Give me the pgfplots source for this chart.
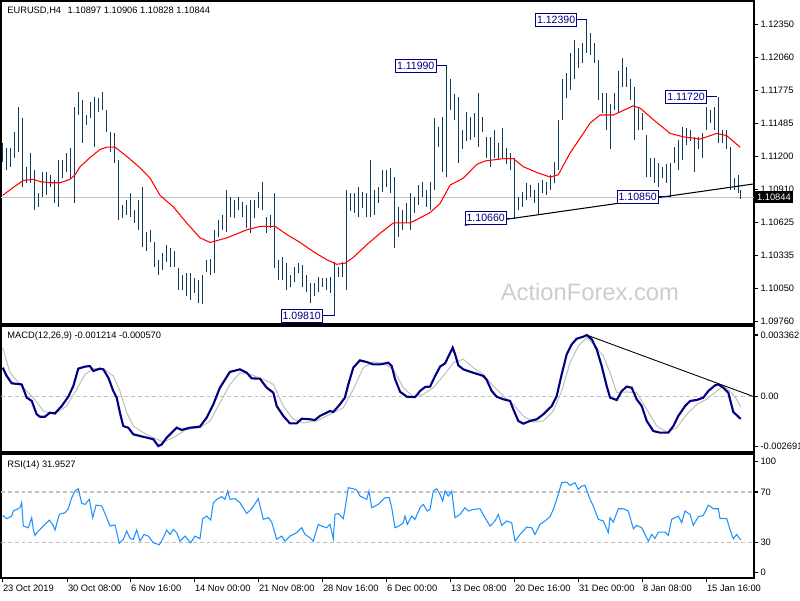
\documentclass[border=0pt]{standalone}
\usepackage{fontspec}
\setmainfont{Liberation Sans}
\usepackage{pgfplots}
\pgfplotsset{compat=1.18}
\usepackage{pgfplotstable}

\definecolor{barcol}{RGB}{16,60,90}
\definecolor{mtnavy}{RGB}{0,0,128}
\definecolor{silv}{RGB}{192,192,192}
\definecolor{rsiblue}{RGB}{30,144,255}
\definecolor{wmark}{RGB}{204,204,204}
\newcommand\tf{\fontsize{5.3}{6}\selectfont}

% price bars: bar index, low, high (every second 4h bar)
\pgfplotstableread{
i lo hi
0 1.1115 1.1132
2 1.1108 1.1127
4 1.1111 1.1127
6 1.1119 1.1141
8 1.1124 1.1163
10 1.1093 1.1153
12 1.1097 1.1111
14 1.1097 1.1123
16 1.1073 1.1108
18 1.1076 1.1088
20 1.1085 1.1106
22 1.1086 1.1106
24 1.1093 1.1104
26 1.1079 1.1099
28 1.1076 1.1117
30 1.1101 1.1117
32 1.1106 1.1123
34 1.1101 1.1127
36 1.1079 1.1163
38 1.1156 1.1176
40 1.1132 1.1169
42 1.1147 1.1156
44 1.1153 1.1167
46 1.1128 1.1172
48 1.1159 1.1171
50 1.1160 1.1176
52 1.1141 1.1160
54 1.1124 1.1141
56 1.1114 1.1140
58 1.1065 1.1117
60 1.1066 1.1078
62 1.1069 1.1082
64 1.1067 1.1088
66 1.1062 1.1073
68 1.1056 1.1082
70 1.1041 1.1093
72 1.1038 1.1054
74 1.1045 1.1056
76 1.1024 1.1045
78 1.1017 1.1030
80 1.1021 1.1036
82 1.1028 1.1043
84 1.1024 1.1040
86 1.1024 1.1038
88 1.1004 1.1023
90 1.1004 1.1017
92 1.0998 1.1018
94 1.0995 1.1018
96 1.1001 1.1014
98 1.0992 1.1012
100 1.0991 1.1017
102 1.1019 1.1030
104 1.1017 1.1031
106 1.1018 1.1056
108 1.1050 1.1065
110 1.1056 1.1069
112 1.1054 1.1091
114 1.1067 1.1085
116 1.1066 1.1082
118 1.1073 1.1085
120 1.1067 1.1080
122 1.1058 1.1078
124 1.1053 1.1082
126 1.1066 1.1082
128 1.1075 1.1089
130 1.1073 1.1098
132 1.1053 1.1067
134 1.1058 1.1069
136 1.1023 1.1088
138 1.1012 1.1030
140 1.1012 1.1032
142 1.1004 1.1027
144 1.1006 1.1017
146 1.1011 1.1024
148 1.1018 1.1027
150 1.1006 1.1025
152 1.1002 1.1017
154 1.0992 1.1010
156 1.0998 1.1010
158 1.1002 1.1015
160 1.1006 1.1014
162 1.1004 1.1014
164 1.1001 1.1015
166 1.0981 1.1028
168 1.1015 1.1024
170 1.1015 1.1028
172 1.1004 1.1091
174 1.1072 1.1088
176 1.1071 1.1088
178 1.1067 1.1093
180 1.1075 1.1089
182 1.1067 1.1088
184 1.1067 1.1117
186 1.1069 1.1091
188 1.1079 1.1093
190 1.1089 1.1108
192 1.1093 1.1108
194 1.1088 1.1110
196 1.1040 1.1102
198 1.1050 1.1076
200 1.1056 1.1073
202 1.1062 1.1079
204 1.1056 1.1088
206 1.1071 1.1085
208 1.1078 1.1095
210 1.1085 1.1098
212 1.1076 1.1091
214 1.1073 1.1098
216 1.1091 1.1153
218 1.1128 1.1146
220 1.1106 1.1154
222 1.1102 1.1199
224 1.1160 1.1187
226 1.1152 1.1174
228 1.1114 1.1172
230 1.1126 1.1143
232 1.1133 1.1159
234 1.1134 1.1154
236 1.1137 1.1158
238 1.1128 1.1175
240 1.1141 1.1154
242 1.1119 1.1137
244 1.1111 1.1137
246 1.1119 1.1143
248 1.1117 1.1132
250 1.1119 1.1145
252 1.1113 1.1127
254 1.1108 1.1123
256 1.1066 1.1119
258 1.1073 1.1085
260 1.1076 1.1089
262 1.1082 1.1097
264 1.1085 1.1095
266 1.1079 1.1091
268 1.1070 1.1097
270 1.1088 1.1099
272 1.1086 1.1098
274 1.1091 1.1104
276 1.1097 1.1115
278 1.1108 1.1152
280 1.1152 1.1187
282 1.1171 1.1193
284 1.1178 1.1210
286 1.1187 1.1221
288 1.1197 1.1214
290 1.1201 1.1219
292 1.1210 1.1239
294 1.1208 1.1227
296 1.1201 1.1219
298 1.1169 1.1204
300 1.1158 1.1175
302 1.1143 1.1175
304 1.1126 1.1166
306 1.1160 1.1175
308 1.1158 1.1194
310 1.1180 1.1206
312 1.1180 1.1198
314 1.1169 1.1187
316 1.1134 1.1180
318 1.1143 1.1163
320 1.1143 1.1158
322 1.1102 1.1139
324 1.1102 1.1119
326 1.1097 1.1119
328 1.1093 1.1114
330 1.1101 1.1111
332 1.1097 1.1113
334 1.1085 1.1114
336 1.1114 1.1128
338 1.1108 1.1134
340 1.1117 1.1146
342 1.1130 1.1145
344 1.1133 1.1143
346 1.1106 1.1137
348 1.1126 1.1137
350 1.1119 1.1140
352 1.1143 1.1163
354 1.1149 1.1160
356 1.1143 1.1163
358 1.1132 1.1172
360 1.1132 1.1143
362 1.1126 1.1143
364 1.1091 1.1128
366 1.1091 1.1101
368 1.1088 1.1104
369 1.1083 1.1091
}\bars

\pgfplotstableread{
i ma
0 1.1086
5.3 1.1093
10.3 1.1099
15.3 1.1100
18.7 1.1098
23.7 1.1097
28.7 1.1097
33.7 1.1100
36.2 1.1104
38.7 1.1111
43.7 1.1119
48.7 1.1126
52 1.1128
56.2 1.1128
62 1.1120
68.7 1.1110
73.7 1.1101
78.7 1.1086
85.3 1.1076
92 1.1062
98.7 1.1049
103.7 1.1045
112 1.1049
122 1.1056
128.7 1.1059
136.2 1.1059
142 1.1052
148.7 1.1045
155.3 1.1037
162 1.1030
167 1.1026
171.2 1.1027
175.3 1.1032
182 1.1043
188.7 1.1053
195.3 1.1062
203.7 1.1062
213.7 1.1071
218.7 1.1079
223.7 1.1095
230.3 1.1101
237 1.1113
241.2 1.1116
250.3 1.1118
255.3 1.1118
260.3 1.1111
267 1.1106
273.7 1.1102
277.8 1.1104
283.7 1.1123
290.3 1.1140
293.7 1.1149
298.7 1.1156
305.3 1.1156
310.3 1.1160
315.3 1.1164
318.7 1.1162
325.3 1.1152
333.7 1.1140
340.3 1.1137
348.7 1.1135
357 1.1140
362 1.1138
368.7 1.1128
}\matab

\pgfplotstableread{
i macd
0 0.00158
2 0.00113
4.5 0.00073
9.5 0.00067
12 -0.00005
14.5 -0.00023
17 -0.00096
18.6 -0.00109
21.1 -0.00109
23.6 -0.00087
26.1 -0.00091
29.5 -0.00051
32.8 0.00000
35.3 0.00058
37.8 0.00153
41.2 0.00164
43.6 0.00167
45.3 0.00140
48.6 0.00153
50.3 0.00149
52.8 0.00104
55.3 0.00031
57 -0.00005
58.6 -0.00087
60.3 -0.00160
62.8 -0.00169
65.3 -0.00205
68.6 -0.00214
72 -0.00223
75.3 -0.00232
77.8 -0.00269
79.5 -0.00260
82 -0.00223
87 -0.00169
89.5 -0.00181
93.6 -0.00169
98.6 -0.00163
102 -0.00114
105.3 -0.00042
108.6 0.00049
113.6 0.00135
118.6 0.00149
122 0.00131
124.5 0.00100
128.6 0.00098
132 0.00049
135.3 0.00022
137 -0.00051
140.3 -0.00105
143.6 -0.00145
147 -0.00145
149.5 -0.00120
153.6 -0.00123
156.1 -0.00127
158.6 -0.00105
163.6 -0.00078
165.3 -0.00083
168.6 -0.00042
171.1 -0.00005
172.8 0.00067
175.3 0.00158
178.6 0.00198
182 0.00189
185.3 0.00176
188.6 0.00176
192.8 0.00185
194.5 0.00167
196.2 0.00095
198.7 0.00027
202 0.00000
206.2 -0.00002
208.7 0.00031
211.2 0.00053
213.7 0.00055
216.2 0.00113
218.7 0.00164
221.2 0.00182
222.8 0.00218
225 0.00267
226.2 0.00231
227.8 0.00171
230.3 0.00149
233.7 0.00136
237.8 0.00122
240.3 0.00113
242 0.00091
244.5 0.00031
247 0.00000
250.3 -0.00014
253.7 -0.00023
255.3 -0.00069
257.8 -0.00132
260.3 -0.00147
263.7 -0.00132
267 -0.00123
270.3 -0.00096
274.5 -0.00051
277 0.00004
279.5 0.00122
282 0.00231
284.5 0.00285
287 0.00316
290.3 0.00327
292 0.00336
294.5 0.00313
297 0.00258
299.5 0.00167
302 0.00058
303.7 -0.00005
307 -0.00018
309.5 0.00031
312 0.00055
314.5 0.00049
317 -0.00014
319.5 -0.00051
322 -0.00132
325.3 -0.00187
328.7 -0.00196
332.8 -0.00196
335.3 -0.00160
337.8 -0.00105
341.2 -0.00051
343.7 -0.00023
347 -0.00018
350.3 -0.00005
352.8 0.00031
356.2 0.00062
357.8 0.00067
360.3 0.00049
362.8 0.00022
365.3 -0.00083
367.8 -0.00109
369 -0.00121
}\macdtab

\pgfplotstableread{
i sig
0 0.00267
3.65 0.00131
8.65 0.00067
15.3 -0.00005
20.3 -0.00078
26.1 -0.00096
32 -0.00051
37 0.00040
41.2 0.00122
45.3 0.00153
50.3 0.00153
55.3 0.00113
58.6 0.00031
62 -0.00087
65.3 -0.00160
70.3 -0.00196
75.3 -0.00223
80.3 -0.00247
85.3 -0.00223
92 -0.00178
98.65 -0.00169
103.65 -0.00132
108.65 -0.00033
113.65 0.00067
118.65 0.00131
123.65 0.00122
130.3 0.00095
135.3 0.00067
140.3 -0.00051
145.3 -0.00123
150.3 -0.00142
157 -0.00132
163.65 -0.00096
170.3 -0.00060
175.3 0.00040
180.3 0.00158
185.3 0.00189
190.3 0.00182
195.3 0.00149
200.3 0.00049
205.3 0.00000
210.3 0.00013
215.3 0.00049
220.3 0.00113
225.3 0.00185
230.3 0.00204
235.3 0.00158
240.3 0.00122
245.3 0.00058
250.3 0.00004
255.3 -0.00042
260.3 -0.00105
265.3 -0.00138
270.3 -0.00132
275.3 -0.00078
279.5 0.00031
283.65 0.00185
287.8 0.00276
292 0.00322
296.2 0.00276
300.3 0.00222
303.65 0.00131
307 0.00022
312 0.00026
317 0.00022
322 -0.00069
327 -0.00160
332 -0.00192
337 -0.00169
342 -0.00096
347 -0.00042
352 -0.00014
357 0.00031
360.3 0.00058
363.65 0.00031
367 -0.00014
369 -0.00057
}\sigtab

\pgfplotstableread{
i rsi
0 51.4
2 48.8
4.5 50.9
5.3 54.9
7 56.2
8.65 57.5
9.5 61.5
10.3 43.0
12.8 41.6
14.5 49.6
15.3 40.3
16.15 35.5
17.8 39.0
20.3 43.0
23.3 47.7
25 44.3
26.15 39.8
28.3 52.2
31.15 53.6
32.8 56.7
34.5 65.5
36.15 70.8
37.8 72.6
39.5 61.0
41.15 60.2
43.3 64.2
45 49.6
46.65 59.6
49.5 58.9
51.65 50.9
53.65 43.0
56.15 43.8
58.3 29.2
60.3 32.4
62 39.0
63.65 33.2
65.3 32.4
67 39.8
68.65 31.0
70.65 36.3
72.8 35.0
75.3 29.7
78.3 28.1
80.3 33.7
82 39.8
83.65 36.3
85.3 40.3
87 37.7
88.65 31.0
91.15 35.0
94 29.7
96.15 35.0
98.65 32.9
100 48.8
102 50.9
104 47.7
105.3 61.5
107 64.2
109.5 66.3
111.15 64.2
112.5 70.8
113.65 64.2
116.15 64.7
118.65 61.5
122 53.0
124.5 56.7
127.8 64.7
130.3 48.3
132.8 49.6
134.5 46.1
137 32.4
139.5 35.0
141.15 31.0
143.65 35.0
147 37.7
149.5 41.6
151.15 36.3
153.65 33.7
155.3 31.0
157.8 44.3
159.5 43.0
162 41.6
163.65 44.3
165.3 32.9
166.15 52.2
167.8 53.0
170.3 48.8
171.15 56.7
172.8 73.4
175.3 72.6
177 71.6
178.65 66.8
180.3 65.5
182 64.2
183.15 70.8
184.5 57.5
187.8 60.2
191.15 65.5
193.3 65.5
194.5 57.5
196.15 41.6
198.65 43.5
200.3 45.6
201.15 50.9
202.3 44.3
204.5 50.9
206.15 48.3
208.65 57.5
210.3 60.2
212.3 54.9
213.65 56.2
215.3 70.8
217 72.6
218.65 68.1
220 62.8
221.15 70.8
222.8 66.8
224.5 70.8
226.15 49.6
228.65 52.2
231.15 57.5
232.8 54.9
235.3 56.2
238.65 56.7
241.15 49.6
243.65 43.0
246.15 47.0
247.8 52.2
249.5 43.5
252 47.0
254.5 45.6
256.15 31.0
258.65 36.3
262 42.1
264.5 41.6
266.15 36.3
268.65 44.3
271.15 47.0
273.65 50.4
275.3 56.2
277 64.2
279.5 77.4
282 77.9
283.65 75.3
286.15 77.4
287.8 72.1
289.5 74.7
291.15 75.3
293.65 64.2
295.3 58.9
297.8 48.3
300.3 47.0
302.8 37.7
303.65 49.6
305.3 46.1
307.8 56.7
310.3 56.7
312.8 54.9
315.3 40.8
317 43.5
319.5 41.6
322.8 31.0
324.5 36.3
326.15 33.2
327.8 38.2
331.15 38.2
332.8 35.5
334.5 48.3
337.8 50.9
339.5 45.6
341.15 54.9
343.65 52.2
345.3 43.5
347.8 50.4
350.3 51.4
352.8 59.6
355.3 56.7
357.8 56.7
358.65 49.0
362 48.8
363.65 40.3
365.3 32.9
367 36.3
369 31.95
}\rsitab

\pgfplotsset{
  mt4/.style={
    scale only axis, anchor=south west, width=15.06cm,
    xmin=-0.85, xmax=375.65, clip=false,
    axis line style={line width=0.6pt},
    tick style={line width=0.6pt, black},
    major tick length=0.07cm, tick align=outside,
    ytick pos=right, yticklabel pos=right,
    yticklabel style={anchor=west, font=\tf, inner xsep=1.5pt},
    scaled y ticks=false,
    xtick=\empty,
  },
}
\tikzset{
  pl/.style={draw=mtnavy, fill=white, text=mtnavy, font=\fontsize{6}{7}\selectfont,
    line width=0.6pt, inner sep=0pt, minimum width=0.82cm, minimum height=0.26cm},
  hdr/.style={anchor=west, font=\tf, inner sep=0pt},
}

\begin{document}
\begin{tikzpicture}
\useasboundingbox (0,0) rectangle (16cm,12cm);

% price panel
\begin{axis}[mt4,
  at={(0.02cm,5.52cm)}, height=6.46cm,
  ymin=1.09740, ymax=1.12553,
  ytick={1.09760,1.10050,1.10335,1.10625,1.10910,1.11200,1.11485,1.11775,1.12060,1.12350},
  yticklabels={1.09760,1.10050,1.10335,1.10625,1.10910,1.11200,1.11485,1.11775,1.12060,1.12350},
]
\node[font=\fontsize{13.5}{15}\selectfont, text=wmark] at (axis cs:293.6,1.1002) {ActionForex.com};
\draw[silv, line width=0.6pt] (axis cs:-0.85,1.10844) -- (axis cs:375.65,1.10844);
\addplot[draw=none, mark=none, forget plot,
  error bars/.cd, y dir=plus, y explicit, error mark=none,
  error bar style={draw=barcol, line width=0.8pt, solid}]
  table[x=i, y=lo, y error plus expr=\thisrow{hi}-\thisrow{lo}] {\bars};
\addplot[red, line width=0.6pt, mark=none] table[x=i, y=ma] {\matab};
\addplot[black, line width=0.6pt, mark=none] coordinates {(231,1.1060) (375.6,1.1096)};
\draw[mtnavy, line width=0.6pt] (axis cs:222,1.1199) -- (axis cs:217,1.1199) node[pl, anchor=east] {1.11990};
\draw[mtnavy, line width=0.6pt] (axis cs:292,1.1239) -- (axis cs:287.2,1.1239) node[pl, anchor=east] {1.12390};
\draw[mtnavy, line width=0.6pt] (axis cs:357,1.1172) -- (axis cs:352.2,1.1172) node[pl, anchor=east] {1.11720};
\draw[mtnavy, line width=0.6pt] (axis cs:334,1.1085) -- (axis cs:328,1.1085) node[pl, anchor=east] {1.10850};
\draw[mtnavy, line width=0.6pt] (axis cs:256,1.1066) -- (axis cs:252,1.1066) node[pl, anchor=east] {1.10660};
\draw[mtnavy, line width=0.6pt] (axis cs:166,1.0981) -- (axis cs:160,1.0981) node[pl, anchor=east] {1.09810};
\node[hdr] at ([xshift=0.12cm, yshift=-0.2cm]rel axis cs:0,1) {EURUSD,H4\hspace{0.7em}1.10897 1.10906 1.10828 1.10844};
\node[fill=black, text=white, font=\tf, anchor=west, inner sep=1pt, minimum height=0.24cm]
  at ([xshift=0.02cm]axis cs:375.65,1.10844) {1.10844};
\end{axis}

% MACD panel
\begin{axis}[mt4,
  at={(0.02cm,2.96cm)}, height=2.52cm,
  ymin=-0.003013, ymax=0.003852,
  ytick={-0.002691,0,0.003362},
  yticklabels={-0.002691,0.00,0.003362},
]
\draw[silv, dash pattern=on 2.2pt off 1.7pt, line width=0.6pt] (axis cs:-0.85,0) -- (axis cs:375.65,0);
\addplot[silv, line width=0.6pt, mark=none] table[x=i, y=sig] {\sigtab};
\addplot[mtnavy, line width=1.2pt, mark=none] table[x=i, y=macd] {\macdtab};
\addplot[black, line width=0.5pt, mark=none] coordinates {(292,0.00336) (375.6,0.0)};
\node[hdr] at ([xshift=0.12cm, yshift=-0.2cm]rel axis cs:0,1) {MACD(12,26,9) -0.001214 -0.000570};
\end{axis}

% RSI panel
\begin{axis}[mt4,
  at={(0.02cm,0.44cm)}, height=2.48cm,
  ymin=1.7, ymax=100.2,
  ytick={6.2,30,70,94.1},
  yticklabels={0,30,70,100},
  xtick={0,32.5,64,96,128,160,192,224,256,288,320,352},
  xticklabels={23 Oct 2019,30 Oct 08:00,6 Nov 16:00,14 Nov 00:00,21 Nov 08:00,28 Nov 16:00,6 Dec 00:00,13 Dec 08:00,20 Dec 16:00,31 Dec 00:00,8 Jan 08:00,15 Jan 16:00},
  xtick pos=left,
  xticklabel style={anchor=north west, font=\tf, inner xsep=0pt, inner ysep=1.5pt},
]
\draw[silv, dash pattern=on 2.2pt off 1.7pt, line width=0.6pt] (axis cs:-0.85,30) -- (axis cs:375.65,30);
\draw[silv, dash pattern=on 2.2pt off 1.7pt, line width=0.6pt] (axis cs:-0.85,70) -- (axis cs:375.65,70);
\addplot[rsiblue, line width=0.6pt, mark=none] table[x=i, y=rsi] {\rsitab};
\node[hdr] at ([xshift=0.12cm, yshift=-0.22cm]rel axis cs:0,1) {RSI(14) 31.9527};
\end{axis}
\end{tikzpicture}
\end{document}
